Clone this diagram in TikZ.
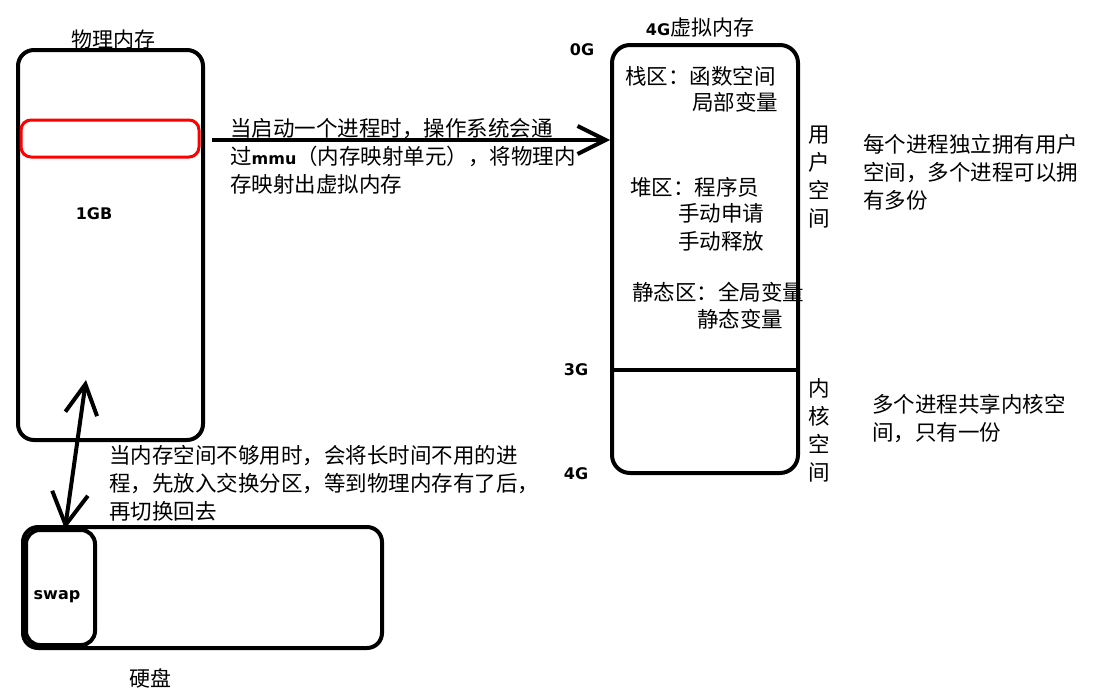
\documentclass[tikz,border=0pt]{standalone}
\usepackage{fontspec}
\newfontfamily\cjk{Noto Sans CJK SC}
\newfontfamily\lbl{DejaVu Sans}
\usetikzlibrary{arrows.meta}
\begin{document}
\begin{tikzpicture}[x=1pt,y=-1pt,
  box/.style={draw, line width=4pt, rounded corners=16pt, inner sep=0},
  txt/.style={font=\cjk\fontsize{21.5}{28}\selectfont, inner sep=0, anchor=north west, align=left},
  lab/.style={font=\lbl\bfseries\fontsize{16}{16}\selectfont, inner sep=0},
  bigarrow/.style={line width=4pt, -{Straight Barb[length=28pt,width=28pt]}},
  swaparrow/.style={line width=4pt, {Straight Barb[length=32pt,width=36pt]}-{Straight Barb[length=30pt,width=32pt]}}]
\useasboundingbox (0,0) rectangle (1107,696);
\fill[white] (0,0) rectangle (1107,696);

% physical memory
\node[box, minimum width=185pt, minimum height=390pt] (phys) at (110.5,245) {};
\node[font=\cjk\fontsize{21}{21}\selectfont, inner sep=0] (physt) at (113,40) {物理内存};
\node[draw=red, line width=3pt, rounded corners=10pt, inner sep=0, minimum width=178pt, minimum height=37pt] (page) at (110,138.5) {};
\node[lab] (gb) at (94,214) {1GB};

% virtual memory
\node[box, rounded corners=18pt, minimum width=186pt, minimum height=428pt] (virt) at (705,259) {};
\node[inner sep=0] (virtt) at (700,28) {{\lbl\bfseries\fontsize{16}{16}\selectfont 4G}{\cjk\fontsize{21}{21}\selectfont 虚拟内存}};
\coordinate (d1) at (612,370);
\coordinate (d2) at (798,370);
\draw[line width=4pt] (virt.west |- d1) -- (virt.east |- d2);
\node[lab] (g0) at (582,50) {0G};
\node[lab] (g3) at (576,370) {3G};
\node[lab] (g4) at (576,474) {4G};

\node[txt] (stack1) at (625,66) {栈区：函数空间};
\node[txt] (stack2) at (692,92) {局部变量};
\node[txt] (heap1) at (630,177) {堆区：程序员};
\node[txt] (heap2) at (678,203) {手动申请\\手动释放};
\node[txt] (stat1) at (632,282) {静态区：全局变量};
\node[txt] (stat2) at (697,309) {静态变量};

\node[txt] (user) at (808,126) {用\\户\\空\\间};
\node[txt] (kern) at (808,378) {内\\核\\空\\间};

\node[txt] (note1) at (863,134) {每个进程独立拥有用户\\空间，多个进程可以拥\\有多份};
\node[txt] (note2) at (872,394) {多个进程共享内核空\\间，只有一份};

% mapping arrow
\coordinate (a1) at (212,140);
\draw[bigarrow] (a1) -- (virt.west |- a1);
\node[txt] (maptxt) at (230,118) {当启动一个进程时，操作系统会通\\过{\lbl\bfseries\fontsize{16}{16}\selectfont mmu}（内存映射单元），将物理内\\存映射出虚拟内存};

% hard disk
\node[box, rounded corners=15pt, minimum width=359pt, minimum height=121pt] (disk) at (202.5,587.5) {};
\node[box, rounded corners=14pt, minimum width=69pt, minimum height=115pt] (swap) at (60.5,587.5) {};
\node[lab] (swapt) at (57,597) {swap};
\node[font=\cjk\fontsize{21}{21}\selectfont, inner sep=0] (diskt) at (150,678) {硬盘};

% swap arrow
\coordinate (s1) at (86,380);
\coordinate (s2) at (65,529);
\draw[swaparrow] (s2) -- (s1);
\node[txt] (swaptxt) at (109,445) {当内存空间不够用时，会将长时间不用的进\\程，先放入交换分区，等到物理内存有了后，\\再切换回去};
\end{tikzpicture}
\end{document}
